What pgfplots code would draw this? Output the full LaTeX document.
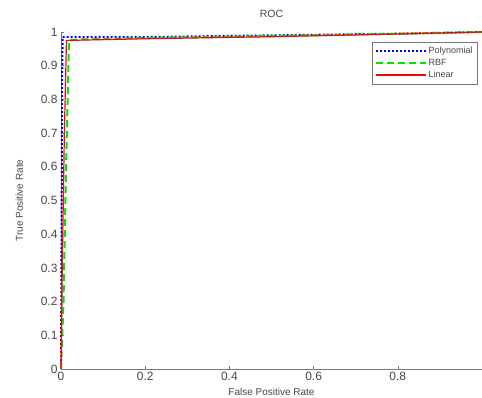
\documentclass[border=0pt]{standalone}
\usepackage{fontspec}
\setmainfont{Liberation Sans}
\usepackage{pgfplots}
\pgfplotsset{compat=1.18}
\definecolor{axgray}{RGB}{120,120,120}
\definecolor{txtgray}{RGB}{70,70,80}
\begin{document}
\begin{tikzpicture}
\begin{axis}[
  scale only axis,
  width=421pt, height=337pt,
  xmin=0, xmax=1, ymin=0, ymax=1,
  axis x line=bottom, axis y line=left,
  axis line style={draw=axgray, line width=0.8pt, -},
  xtick={0,0.2,0.4,0.6,0.8},
  ytick={0,0.1,...,1},
  tick style={draw=axgray, line width=0.6pt},
  major tick length=3pt,
  tick align=inside,
  /pgf/number format/assume math mode=true,
  tick label style={font=\fontsize{12}{13}\selectfont, text=txtgray},
  xlabel={False Positive Rate},
  ylabel={True Positive Rate},
  label style={font=\fontsize{10}{11}\selectfont, text=txtgray},
  xlabel style={yshift=0pt},
  ylabel style={yshift=11pt},
  title={ROC},
  title style={font=\fontsize{10.5}{12}\selectfont, text=txtgray, yshift=5pt},
  legend style={at={(0.99,0.97)}, anchor=north east, draw=axgray,
    font=\fontsize{9}{10}\selectfont, text=txtgray, inner sep=3pt,
    row sep=0pt, cells={anchor=west}},
  legend image post style={xscale=2.9},
  legend cell align=left,
  clip=false,
]
\addplot[color=blue, line width=2pt, dotted] coordinates {
  (0,0) (0.001,0.3) (0.002,0.6) (0.003,0.9) (0.004,0.985) (0.02,0.985) (0.2,0.985) (0.5,0.99) (0.8,0.995) (1,1)};
\addlegendentry{Polynomial}
\addplot[color=green!90!black, line width=2pt, dash pattern=on 7pt off 4pt] coordinates {
  (0,0) (0.006,0.2) (0.012,0.6) (0.019,0.975) (0.05,0.978) (0.2,0.982) (0.5,0.988) (0.8,0.995) (1,1)};
\addlegendentry{RBF}
\addplot[color=red, line width=1.2pt, solid] coordinates {
  (0,0) (0.003,0.3) (0.008,0.7) (0.013,0.975) (0.05,0.976) (0.2,0.98) (0.5,0.986) (0.8,0.994) (1,1)};
\addlegendentry{Linear}
\end{axis}
\pgfresetboundingbox
\useasboundingbox (-61pt,-28pt) rectangle (421pt,369pt);
\end{tikzpicture}
\end{document}
